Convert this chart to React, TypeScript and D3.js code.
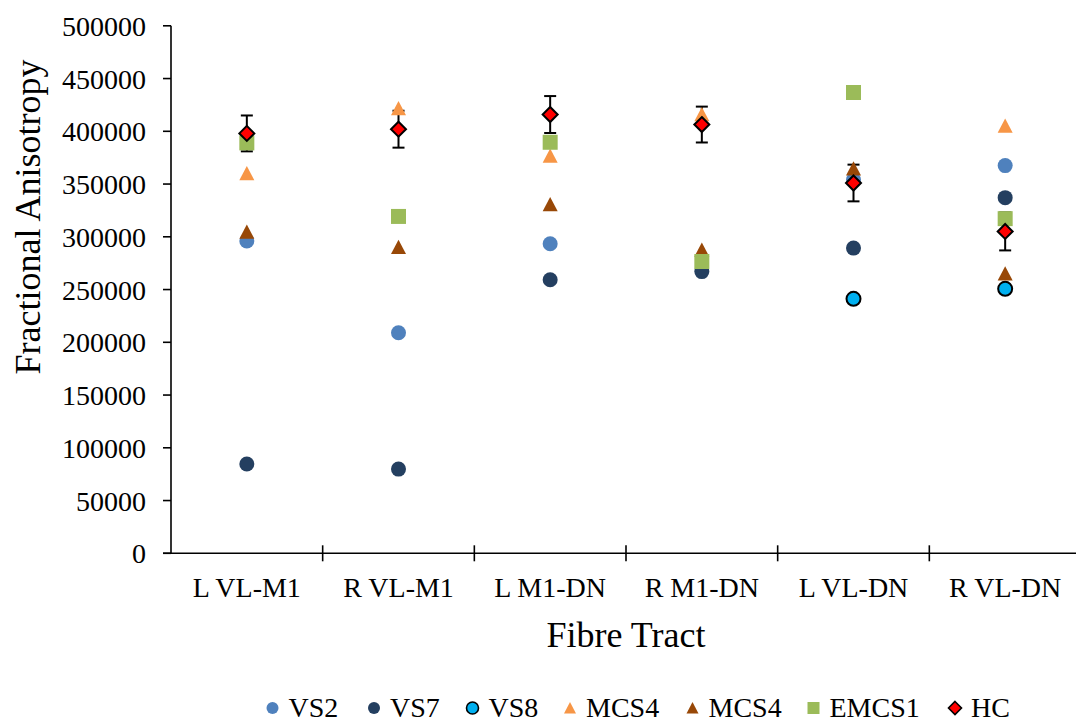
import React, { useEffect, useRef } from 'react';
import * as d3 from 'd3';

// fibre tracts on the x axis
const tracts = ['L VL-M1', 'R VL-M1', 'L M1-DN', 'R M1-DN', 'L VL-DN', 'R VL-DN'];
const yTicks = [0, 50000, 100000, 150000, 200000, 250000, 300000, 350000, 400000, 450000, 500000];

// values (null = no point shown)
const vs2 = [296000, 209000, 293400, null, 354000, 367500];
const vs7 = [84600, 79800, 259300, 267000, 289300, 337100];
const vs8 = [null, null, null, null, 241200, 250700];
const mcs4Orange = [360000, 421500, 376600, 416000, null, 405000];
const mcs4Brown = [304500, 290200, 330700, 287500, 364600, 265000];
const emcs1 = [389000, 319300, 389600, 276600, 436800, 317200];
const hc = [398000, 402000, 415900, 406400, 351000, 305100];
const hcErr = [17000, 17500, 17500, 17000, 17400, 18000];

const FONT = '"Liberation Serif", "Times New Roman", serif';

type Shape = 'circle' | 'triangle' | 'square' | 'diamond';

const series: { name: string; values: (number | null)[]; shape: Shape; fill: string; stroke: string | null }[] = [
  { name: 'VS2', values: vs2, shape: 'circle', fill: '#4f81bd', stroke: null },
  { name: 'VS7', values: vs7, shape: 'circle', fill: '#243f60', stroke: null },
  { name: 'VS8', values: vs8, shape: 'circle', fill: '#00b0f0', stroke: '#000' },
  { name: 'MCS4', values: mcs4Orange, shape: 'triangle', fill: '#f79646', stroke: null },
  { name: 'MCS4', values: mcs4Brown, shape: 'triangle', fill: '#984807', stroke: null },
  { name: 'EMCS1', values: emcs1, shape: 'square', fill: '#9bbb59', stroke: null },
  { name: 'HC', values: hc, shape: 'diamond', fill: '#ff0000', stroke: '#000' },
];

const shapePath = (shape: Shape, s: number) => {
  const h = s / 2;
  if (shape === 'triangle') return `M0,${-h}L${h},${h * 0.9}L${-h},${h * 0.9}Z`;
  if (shape === 'square') return `M${-h},${-h}H${h}V${h}H${-h}Z`;
  if (shape === 'diamond') return `M0,${-h}L${h},0L0,${h}L${-h},0Z`;
  return `M${h},0A${h},${h} 0 1,1 ${-h},0A${h},${h} 0 1,1 ${h},0Z`;
};

const App = () => {
  const svgRef = useRef<SVGSVGElement>(null);
  const width = 1076;
  const height = 725;

  useEffect(() => {
    const svg = d3.select(svgRef.current);
    svg.selectAll('*').remove();

    const x = d3.scaleBand().domain(tracts).range([171, 1081]).padding(0);
    const y = d3.scaleLinear().domain([0, 500000]).range([553.3, 25.8]);

    // y axis
    const yAxis = svg.append('g');
    yAxis.append('line').attr('x1', 171).attr('x2', 171).attr('y1', y(500000)).attr('y2', y(0))
      .attr('stroke', '#000').attr('stroke-width', 1.6);
    yAxis.selectAll('.yt').data(yTicks).join('line')
      .attr('x1', 163).attr('x2', 171).attr('y1', d => y(d)).attr('y2', d => y(d))
      .attr('stroke', '#000').attr('stroke-width', 1.6);
    yAxis.selectAll('.yl').data(yTicks).join('text')
      .attr('x', 146).attr('y', d => y(d) + 10)
      .attr('text-anchor', 'end').attr('font-family', FONT).attr('font-size', 28)
      .text(d => String(d));

    // x axis
    const xAxis = svg.append('g');
    xAxis.append('line').attr('x1', 163).attr('x2', 1081).attr('y1', y(0)).attr('y2', y(0))
      .attr('stroke', '#000').attr('stroke-width', 1.6);
    const bounds = tracts.map(t => (x(t) as number) + x.bandwidth()).slice(0, -1);
    xAxis.selectAll('.xt').data(bounds).join('line')
      .attr('x1', d => d).attr('x2', d => d).attr('y1', y(0) - 8).attr('y2', y(0) + 8)
      .attr('stroke', '#000').attr('stroke-width', 1.6);
    xAxis.selectAll('.xl').data(tracts).join('text')
      .attr('x', d => (x(d) as number) + x.bandwidth() / 2).attr('y', 597)
      .attr('text-anchor', 'middle').attr('font-family', FONT).attr('font-size', 28)
      .text(d => d);

    // axis titles
    svg.append('text').attr('x', 626).attr('y', 647).attr('text-anchor', 'middle')
      .attr('font-family', FONT).attr('font-size', 36).text('Fibre Tract');
    svg.append('text').attr('transform', 'translate(40,217) rotate(-90)').attr('text-anchor', 'middle')
      .attr('font-family', FONT).attr('font-size', 36).text('Fractional Anisotropy');

    const cx = (i: number) => (x(tracts[i]) as number) + x.bandwidth() / 2;

    // HC error bars (behind the markers)
    const eb = svg.append('g').attr('stroke', '#000').attr('stroke-width', 2);
    hc.forEach((v, i) => {
      const top = y(v + hcErr[i]);
      const bot = y(v - hcErr[i]);
      eb.append('line').attr('x1', cx(i)).attr('x2', cx(i)).attr('y1', top).attr('y2', bot);
      eb.append('line').attr('x1', cx(i) - 6).attr('x2', cx(i) + 6).attr('y1', top).attr('y2', top);
      eb.append('line').attr('x1', cx(i) - 6).attr('x2', cx(i) + 6).attr('y1', bot).attr('y2', bot);
    });

    // points
    series.forEach(s => {
      const size = s.shape === 'diamond' ? 15 : s.shape === 'triangle' ? 15 : s.stroke ? 14 : 15;
      svg.append('g').selectAll('path')
        .data(s.values.map((v, i) => ({ v, i })).filter(d => d.v !== null))
        .join('path')
        .attr('d', shapePath(s.shape, size))
        .attr('transform', d => `translate(${cx(d.i)},${y(d.v as number)})`)
        .attr('fill', s.fill)
        .attr('stroke', s.stroke || 'none')
        .attr('stroke-width', s.stroke ? 2 : 0);
    });

    // legend
    const legendX = [272.5, 374, 472.5, 570, 692.5, 813.5, 955];
    const legendY = 708;
    const lg = svg.append('g');
    series.forEach((s, i) => {
      lg.append('path')
        .attr('d', shapePath(s.shape, s.shape === 'diamond' ? 13 : 12))
        .attr('transform', `translate(${legendX[i]},${legendY})`)
        .attr('fill', s.fill)
        .attr('stroke', s.stroke || 'none')
        .attr('stroke-width', s.stroke ? 1.6 : 0);
      lg.append('text').attr('x', legendX[i] + 16).attr('y', legendY + 9)
        .attr('font-family', FONT).attr('font-size', 28).text(s.name);
    });
  }, []);

  return (
    <svg
      ref={svgRef}
      width={width}
      height={height}
      style={{ position: 'absolute', left: 0, top: 0, background: '#fff' }}
    />
  );
};

export default App;
